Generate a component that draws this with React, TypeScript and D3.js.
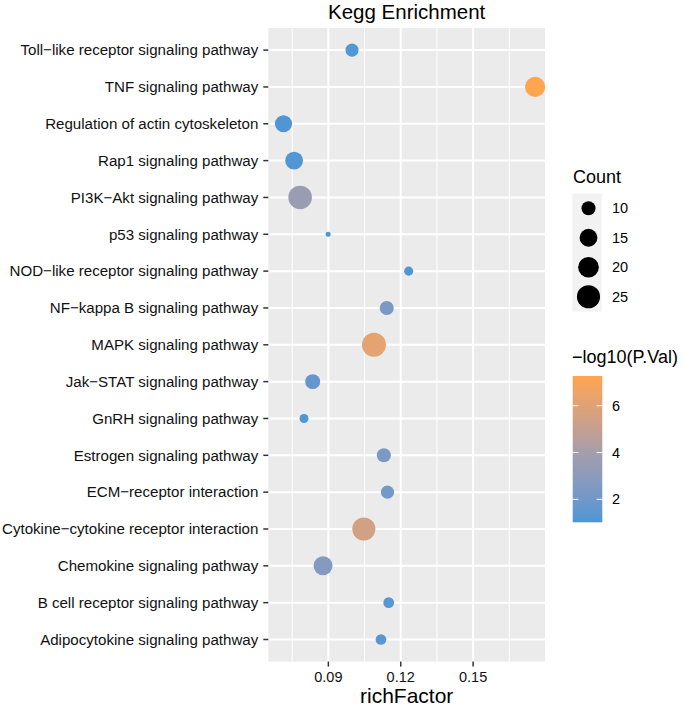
import React from 'react';
import * as d3 from 'd3';

// pathways, top to bottom as drawn
const pathways = [
  'Toll−like receptor signaling pathway',
  'TNF signaling pathway',
  'Regulation of actin cytoskeleton',
  'Rap1 signaling pathway',
  'PI3K−Akt signaling pathway',
  'p53 signaling pathway',
  'NOD−like receptor signaling pathway',
  'NF−kappa B signaling pathway',
  'MAPK signaling pathway',
  'Jak−STAT signaling pathway',
  'GnRH signaling pathway',
  'Estrogen signaling pathway',
  'ECM−receptor interaction',
  'Cytokine−cytokine receptor interaction',
  'Chemokine signaling pathway',
  'B cell receptor signaling pathway',
  'Adipocytokine signaling pathway',
];
const richFactor = [0.0998, 0.1757, 0.0714, 0.0758, 0.0783, 0.0899, 0.1233, 0.1142, 0.1089, 0.0835, 0.0799, 0.113, 0.1145, 0.1047, 0.0878, 0.115, 0.1118];
const counts = [9, 19, 14, 15, 26, 5, 6, 10, 27, 11, 6, 10, 9, 25, 17, 7, 7];
const logP = [1.2, 7.27, 1.15, 1.2, 3.6, 1.02, 1.1, 2.4, 6.2, 1.6, 1.1, 2.4, 2.1, 5.5, 2.7, 1.3, 1.35];

const xLimits = [0.0651, 0.1798];
const xTicks = [0.09, 0.12, 0.15];
const xMinor = [0.075, 0.105, 0.135, 0.165];
const sizeBreaks = [10, 15, 20, 25];
const colorBreaks = [2, 4, 6];
const colorStops = ['#4b96d6', '#a09dae', '#ffa54f'];

const FONT = '"Liberation Sans", Arial, sans-serif';

export default function App() {
  const width = 685;
  const height = 706;
  const panel = { left: 268.3, right: 545, top: 28, bottom: 661.6 };

  const x = d3.scaleLinear().domain(xLimits).range([panel.left, panel.right]);
  const y = d3.scalePoint<string>()
    .domain(pathways)
    .range([panel.top, panel.bottom])
    .padding(0.6);

  const cExt = d3.extent(counts) as [number, number];
  const sizeT = d3.scaleLinear().domain(cExt).range([0, 1]).clamp(true);
  const rad = (c: number) => 2.5 + 9.5 * Math.sqrt(sizeT(c));

  const lExt = d3.extent(logP) as [number, number];
  const color = d3.scaleLinear<string>()
    .domain([lExt[0], lExt[0] + 0.46 * (lExt[1] - lExt[0]), lExt[1]])
    .range(colorStops)
    .interpolate(d3.interpolateLab);

  // colorbar
  const bar = { x: 572.7, w: 29.6, top: 376, bottom: 522.3 };
  const barY = d3.scaleLinear().domain(lExt).range([bar.bottom, bar.top]);
  const stops = d3.range(0, 1.0001, 0.05);

  // size legend
  const keyX = 572.3;
  const keyW = 29.4;
  const keyTop = 193.5;
  const keyH = 29.5;

  return (
    <svg width={width} height={height} style={{ position: 'absolute', left: 0, top: 0, fontFamily: FONT }}>
      <defs>
        <linearGradient id="cbar" x1="0" y1="1" x2="0" y2="0">
          {stops.map((s) => (
            <stop key={s} offset={s} stopColor={color(lExt[0] + s * (lExt[1] - lExt[0]))} />
          ))}
        </linearGradient>
      </defs>
      <rect width={width} height={height} fill="#fff" />

      {/* panel */}
      <rect x={panel.left} y={panel.top} width={panel.right - panel.left} height={panel.bottom - panel.top} fill="#ebebeb" />
      {xMinor.map((v) => (
        <line key={'m' + v} x1={x(v)} x2={x(v)} y1={panel.top} y2={panel.bottom} stroke="#fff" strokeWidth={1} />
      ))}
      {xTicks.map((v) => (
        <line key={'g' + v} x1={x(v)} x2={x(v)} y1={panel.top} y2={panel.bottom} stroke="#fff" strokeWidth={2} />
      ))}
      {pathways.map((p) => (
        <line key={'h' + p} x1={panel.left} x2={panel.right} y1={y(p)} y2={y(p)} stroke="#fff" strokeWidth={2} />
      ))}

      {pathways.map((p, i) => (
        <circle key={'c' + p} cx={x(richFactor[i])} cy={y(p)} r={rad(counts[i])} fill={color(logP[i])} />
      ))}

      {/* y axis */}
      {pathways.map((p) => (
        <g key={'y' + p}>
          <line x1={panel.left - 5} x2={panel.left} y1={y(p)} y2={y(p)} stroke="#333" strokeWidth={1.5} />
          <text x={panel.left - 10} y={y(p)} dy="0.35em" textAnchor="end" fontSize={15.1} fill="#111">{p}</text>
        </g>
      ))}

      {/* x axis */}
      {xTicks.map((v) => (
        <g key={'x' + v}>
          <line x1={x(v)} x2={x(v)} y1={panel.bottom} y2={panel.bottom + 5} stroke="#333" strokeWidth={1.5} />
          <text x={x(v)} y={681.7} textAnchor="middle" fontSize={14.5} fill="#111">{d3.format('.2f')(v)}</text>
        </g>
      ))}
      <text x={(panel.left + panel.right) / 2} y={703} textAnchor="middle" fontSize={21}>richFactor</text>
      <text x={(panel.left + panel.right) / 2} y={19} textAnchor="middle" fontSize={20.5}>Kegg Enrichment</text>

      {/* size legend */}
      <text x={573} y={183} fontSize={18}>Count</text>
      <rect x={keyX} y={keyTop} width={keyW} height={keyH * sizeBreaks.length} fill="#f2f2f2" />
      {sizeBreaks.map((b, i) => (
        <g key={'s' + b}>
          <circle cx={keyX + keyW / 2 + 1.5} cy={keyTop + keyH * (i + 0.5)} r={rad(b)} fill="#000" />
          <text x={612} y={keyTop + keyH * (i + 0.5)} dy="0.35em" fontSize={14.5}>{b}</text>
        </g>
      ))}

      {/* colour legend */}
      <text x={572} y={363} fontSize={18}>−log10(P.Val)</text>
      <rect x={bar.x} y={bar.top} width={bar.w} height={bar.bottom - bar.top} fill="url(#cbar)" />
      {colorBreaks.map((b) => (
        <g key={'cb' + b}>
          <line x1={bar.x} x2={bar.x + 5.7} y1={barY(b)} y2={barY(b)} stroke="#fff" strokeWidth={1} />
          <line x1={bar.x + bar.w - 5.7} x2={bar.x + bar.w} y1={barY(b)} y2={barY(b)} stroke="#fff" strokeWidth={1} />
          <text x={612} y={barY(b)} dy="0.35em" fontSize={14.5}>{b}</text>
        </g>
      ))}
    </svg>
  );
}
